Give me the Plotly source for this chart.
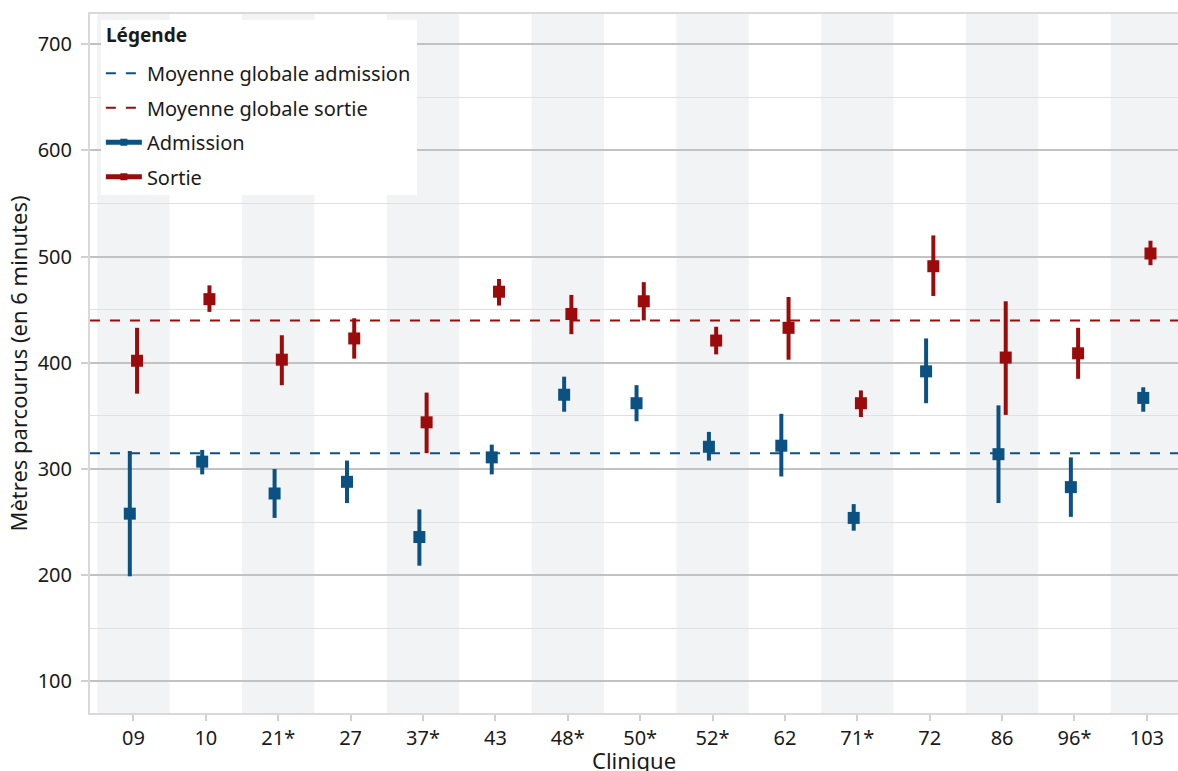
import plotly.graph_objects as go

categories = ["09", "10", "21*", "27", "37*", "43", "48*", "50*", "52*", "62", "71*", "72", "86", "96*", "103"]

adm_mean = [258, 307, 277, 288, 236, 311, 370, 362, 321, 322, 254, 392, 314, 283, 367]
adm_low = [199, 295, 254, 268, 209, 295, 354, 345, 308, 293, 242, 362, 268, 255, 354]
adm_high = [317, 318, 300, 308, 262, 323, 387, 379, 335, 352, 267, 423, 360, 311, 377]

sor_mean = [402, 460, 403, 423, 344, 467, 446, 458, 421, 433, 362, 491, 405, 409, 503]
sor_low = [371, 448, 379, 404, 315, 454, 427, 440, 408, 403, 349, 463, 351, 385, 492]
sor_high = [433, 473, 426, 442, 372, 479, 464, 476, 434, 462, 374, 520, 458, 433, 515]

global_adm = 315
global_sor = 440

BLUE = "#0b5282"
RED = "#9b0b0b"
FONT = "Noto Sans"
TXT = "#1a1a1a"

idx = list(range(len(categories)))
x_range = [-0.6, 14.43]
offset = 0.05

fig = go.Figure()

fig.add_trace(go.Scatter(
    x=x_range, y=[global_adm, global_adm], mode="lines",
    line=dict(color=BLUE, width=2, dash="10px,10px"),
    name="Moyenne globale admission", legendgroup="g1", hoverinfo="skip"))
fig.add_trace(go.Scatter(
    x=x_range, y=[global_sor, global_sor], mode="lines",
    line=dict(color=RED, width=2, dash="10px,10px"),
    name="Moyenne globale sortie", legendgroup="g2", hoverinfo="skip"))

fig.add_trace(go.Scatter(
    x=[None], y=[None], mode="lines+markers",
    line=dict(color=BLUE, width=5), marker=dict(symbol="square", size=7, color=BLUE),
    name="Admission", legendgroup="g3"))
fig.add_trace(go.Scatter(
    x=[None], y=[None], mode="lines+markers",
    line=dict(color=RED, width=5), marker=dict(symbol="square", size=7, color=RED),
    name="Sortie", legendgroup="g4"))

def add_series(means, lows, highs, color, shift, group):
    fig.add_trace(go.Scatter(
        x=[i + shift for i in idx], y=means, mode="markers",
        marker=dict(symbol="square", size=12, color=color, line=dict(width=0)),
        error_y=dict(type="data", symmetric=False,
                     array=[h - m for h, m in zip(highs, means)],
                     arrayminus=[m - l for m, l in zip(means, lows)],
                     color=color, thickness=4, width=0),
        showlegend=False, legendgroup=group,
        text=categories, hovertemplate="%{text}: %{y}<extra></extra>"))

add_series(adm_mean, adm_low, adm_high, BLUE, -offset, "g3")
add_series(sor_mean, sor_low, sor_high, RED, offset, "g4")

shapes = []
for i in idx:
    if i % 2 == 0:
        shapes.append(dict(type="rect", xref="x", yref="paper", x0=i - 0.5, x1=i + 0.5,
                           y0=0, y1=1, fillcolor="#f2f3f5", line=dict(width=0), layer="below"))

# legend background box
shapes.append(dict(type="rect", xref="paper", yref="paper", x0=0.0101, x1=0.3006,
                   y0=0.741, y1=0.9914, fillcolor="white", line=dict(width=0), layer="above"))

fig.update_layout(
    width=1178, height=771,
    margin=dict(l=90, r=0, t=14, b=58),
    paper_bgcolor="white", plot_bgcolor="white",
    font=dict(family=FONT, size=20, color=TXT),
    shapes=shapes,
    annotations=[
        dict(text="<b>Légende</b>", xref="paper", yref="paper", x=0.0125, y=0.970,
             xanchor="left", yanchor="middle", showarrow=False,
             font=dict(family=FONT, size=19, color=TXT)),
        dict(text="Clinique", xref="paper", yref="paper", x=0.5, y=-0.0672,
             xanchor="center", yanchor="middle", showarrow=False,
             font=dict(family=FONT, size=22, color=TXT)),
    ],
    showlegend=True,
    legend=dict(
        x=0.01, y=0.943, xanchor="left", yanchor="top",
        bgcolor="rgba(0,0,0,0)", borderwidth=0,
        font=dict(family=FONT, size=20, color=TXT),
        traceorder="grouped", tracegroupgap=5.5,
        itemwidth=36,
    ),
    xaxis=dict(
        range=x_range, tickmode="array", tickvals=idx, ticktext=categories,
        showgrid=False, zeroline=False,
        showline=True, linecolor="#d9d9d9", linewidth=2, mirror=True,
        ticks="outside", ticklen=6, tickwidth=2, tickcolor="#d0d0d0",
        tickfont=dict(family=FONT, size=20, color=TXT),
        automargin=False,
    ),
    yaxis=dict(
        range=[70.3, 728.5], tickmode="linear", tick0=0, dtick=100,
        showgrid=True, gridcolor="#c2c2c2", gridwidth=2, zeroline=False,
        minor=dict(showgrid=True, gridcolor="#e0e0e0", gridwidth=1, dtick=50, tick0=0),
        showline=True, linecolor="#d9d9d9", linewidth=2, mirror=False,
        ticks="outside", ticklen=7, tickwidth=2, tickcolor="#d0d0d0",
        ticklabelstandoff=5,
        tickfont=dict(family=FONT, size=20, color=TXT),
        title=dict(text="Mètres parcourus (en 6 minutes)", standoff=4,
                   font=dict(family=FONT, size=22, color=TXT)),
        automargin=False,
    ),
)

fig.write_html("out.html", post_script="document.body.style.margin='0';",
               config={"displayModeBar": False})
